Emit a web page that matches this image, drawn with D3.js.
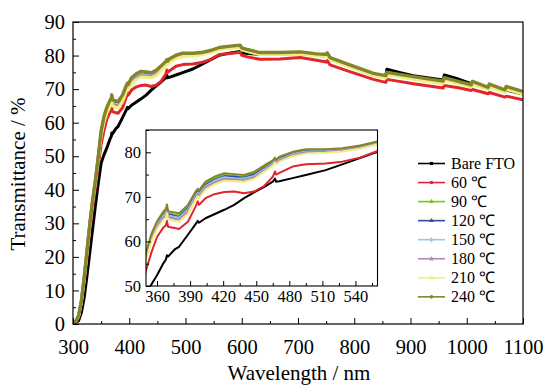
<!DOCTYPE html>
<html lang="en">
<head>
<meta charset="UTF-8">
<title>Transmittance</title>
<script src="https://cdn.jsdelivr.net/npm/d3@7/dist/d3.min.js"></script>
<style>
    body{ margin:0; background:#fff; }
    text{ font-family: "Liberation Serif", "Times New Roman", serif; fill:#000; }
    path.curve{ fill:none; stroke-linejoin:round; }
</style>
</head>
<body>
<svg id="main" width="549" height="385"></svg>
<script>
// wavelength grid (nm)
const wavelength = [300,305,310,315,320,325,330,335,340,345,350,355,360,
    366,368,369,370, 376,380,388, 395,397,398, 404,412,421,430,439,448,457,
    465,467,468,471, 483,495,513,528,544,560, 580,597,600,610,632,668,704,733,
    750,752,757,792,834, 856,858,880,905, 958,960,985,
    1008,1010,1038,1040,1068,1070,1100];

// transmittance (%) per sample
const bareFTO = [0.3,0.5,1,3.5,8,14.5,21.5,28.5,35.5,42,48,50.4,52.4,
    55.2,55.9,56.9,56.6, 58.2,58.8,61.5, 63.9,64.6,64.2, 65.2,66.1,67.1,68.2,69.7,71.0,72.2,
    73.4,74.1,73.4,73.5, 74.2,74.9,76.0,77.3,78.7,80.1, 80.8,81.2,80.8,80.6,80.4,80.5,80.7,80.1,
    79.9,80.3,79.0,76.9,74.5, 73.8,75.9,75.0,74.0, 72.7,74.2,73.0,
    71.6,71.9,70.3,70.8,69.3,69.7,68.5];
const t60 = [0.3,0.6,2,6,12.5,20,28,35,41,47.5,53.5,57.6,61,
    63.2,63.6,64.6,63.3, 63.0,62.8,64.4, 67.8,69.0,68.2, 69.7,70.6,71.1,71.2,70.8,71.2,72.4,
    74.5,75.7,75.0,75.4, 76.8,77.3,77.5,77.9,78.8,80.3, 80.6,81.0,80.1,79.6,78.9,79.0,79.4,78.6,
    78.1,78.5,77.2,75.2,72.9, 72.0,72.9,72.3,71.6, 70.3,71.1,70.4,
    69.6,69.9,68.6,69.0,67.6,67.9,66.8];
const t90 = [0.5,0.8,2.5,7.0,13.9,21.9,29.9,36.9,42.9,49.8,57.1,61.4,64.1,
    66.3,66.7,67.8,66.4, 66.0,65.8,67.7, 70.8,71.4,71.0, 73.0,74.1,74.9,74.7,74.5,75.2,76.7,
    77.9,78.5,78.0,78.7, 79.9,80.5,80.5,80.7,81.3,82.3, 82.7,83.0,82.2,81.7,80.8,80.8,81.0,80.4,
    80.2,80.6,79.3,77.1,74.6, 73.8,74.8,74.2,73.5, 72.2,73.2,72.1,
    71.1,72.1,70.3,71.3,69.6,70.6,69.1];
const t120 = [0.5,0.8,2.5,6.9,13.8,21.8,29.8,36.8,42.8,49.7,56.9,61.1,63.8,
    66.0,66.4,67.5,66.1, 65.7,65.5,67.4, 70.5,71.2,70.7, 72.7,73.8,74.6,74.5,74.3,75.0,76.4,
    77.7,78.4,77.9,78.6, 79.7,80.3,80.4,80.6,81.2,82.2, 82.6,82.9,82.1,81.6,80.7,80.7,80.9,80.3,
    80.1,80.5,79.2,77.0,74.5, 73.7,74.7,74.1,73.4, 72.1,73.1,72.0,
    71.0,72.0,70.2,71.2,69.5,70.4,69.0];
const t150 = [0.5,0.8,2.4,6.9,13.8,21.7,29.7,36.7,42.7,49.6,56.7,60.8,63.6,
    65.8,66.2,67.3,65.8, 65.5,65.3,67.1, 70.2,70.9,70.5, 72.4,73.6,74.4,74.2,74.1,74.7,76.2,
    77.5,78.2,77.7,78.4, 79.6,80.2,80.3,80.5,81.1,82.1, 82.5,82.8,82.0,81.5,80.6,80.6,80.8,80.2,
    80.0,80.4,79.1,76.9,74.4, 73.6,74.6,74.0,73.3, 72.0,73.0,71.9,
    70.9,71.9,70.1,71.1,69.4,70.3,68.9];
const t180 = [0.5,0.8,2.4,6.8,13.7,21.6,29.6,36.6,42.6,49.5,56.4,60.5,63.2,
    65.4,65.8,66.9,65.5, 65.1,64.9,66.7, 69.9,70.6,70.1, 72.1,73.2,74.0,73.9,73.8,74.4,75.9,
    77.3,78.0,77.5,78.2, 79.4,80.0,80.1,80.4,81.0,81.9, 82.3,82.6,81.8,81.3,80.4,80.4,80.6,80.0,
    79.9,80.3,78.9,76.7,74.2, 73.5,74.5,73.9,73.1, 71.8,72.9,71.8,
    70.8,71.7,70.0,70.9,69.2,70.1,68.7];
const t210 = [0.5,0.8,2.4,6.8,13.6,21.5,29.5,36.5,42.5,49.3,56.0,60.0,62.8,
    64.9,65.3,66.4,65.0, 64.6,64.4,66.2, 69.4,70.2,69.7, 71.6,72.8,73.6,73.5,73.4,74.0,75.6,
    77.0,77.7,77.2,77.9, 79.1,79.7,79.9,80.2,80.8,81.8, 82.2,82.5,81.7,81.2,80.3,80.3,80.5,79.9,
    79.7,80.1,78.8,76.6,74.1, 73.3,74.3,73.7,72.9, 71.6,72.7,71.6,
    70.6,71.5,69.8,70.7,69.0,69.9,68.5];
const t240 = [0.5,0.8,2.5,7,14,22,30,37,43,50,57.5,61.8,64.5,
    66.8,67.2,68.3,66.8, 66.5,66.3,68.2, 71.2,71.8,71.4, 73.4,74.5,75.3,75.1,74.9,75.6,77.0,
    78.2,78.8,78.3,79.0, 80.1,80.7,80.7,80.9,81.5,82.4, 82.8,83.1,82.3,81.8,80.9,80.9,81.1,80.5,
    80.4,80.8,79.4,77.2,74.7, 74.0,75.0,74.4,73.7, 72.4,73.4,72.3,
    71.3,72.3,70.5,71.5,69.8,70.8,69.3];

const seriesNames = ["Bare FTO", "60 \u2103", "90 \u2103", "120 \u2103", "150 \u2103", "180 \u2103", "210 \u2103", "240 \u2103"];
const seriesValues = [bareFTO, t60, t90, t120, t150, t180, t210, t240];

// main axis ticks
const xTicks = [300,400,500,600,700,800,900,1000,1100];
const yTicks = [0,10,20,30,40,50,60,70,80,90];
// inset axis ticks
const xTicksInset = [360,390,420,450,480,510,540];
const yTicksInset = [50,60,70,80];

// styling
const colors = ["#000000","#e3242b","#7cc41f","#2b4f9e","#8fcbe8","#b97fb8","#eef07c","#84842a"];
const symbols = [d3.symbolSquare, d3.symbolCircle, d3.symbolTriangle, d3.symbolTriangle,
                 d3.symbolDiamond, d3.symbolStar, d3.symbolTriangle, d3.symbolCircle];
const font = '"Liberation Serif", "Times New Roman", serif';

let svg = d3.select('svg#main');
svg.append('rect').attr('width',549).attr('height',385).attr('fill','#fff');

let series = seriesNames.map(function(name, i){
    return {name: name, color: colors[i],
            points: wavelength.map(function(w, j){ return {x: w, y: seriesValues[i][j]}; })};
});

// ---------- main plot ----------
let frame = {left:73, right:523, top:22, bottom:324};
let xScale = d3.scaleLinear().domain([300,1100]).range([frame.left, frame.right]);
let yScale = d3.scaleLinear().domain([0,90]).range([frame.bottom, frame.top]);

svg.append('clipPath').attr('id','clipMain').append('rect')
    .attr('x',frame.left).attr('y',frame.top)
    .attr('width',frame.right-frame.left).attr('height',frame.bottom-frame.top);

let line = d3.line().x(function(d){return xScale(d.x)}).y(function(d){return yScale(d.y)});
let fig = svg.append('g').attr('clip-path','url(#clipMain)');
fig.selectAll('path').data(series).enter().append('path')
    .attr('class','curve')
    .attr('d', function(d){return line(d.points)})
    .attr('stroke', function(d){return d.color})
    .attr('stroke-width', function(d,i){return i===7 ? 3.4 : 3});

function styleAxis(g, size){
    g.select('.domain').remove();
    g.attr('font-family', null).attr('font-size', null);
    g.selectAll('text').style('font-family', font).style('font-size', size+'px').attr('fill','#000');
    g.selectAll('line').attr('stroke','#000');
}

svg.append('g').attr('transform','translate(0,'+frame.bottom+')')
    .call(d3.axisBottom(xScale).tickValues(d3.range(350,1100,100)).tickSize(-3).tickFormat(''))
    .call(styleAxis, 20.5);
svg.append('g').attr('transform','translate(0,'+frame.bottom+')')
    .call(d3.axisBottom(xScale).tickValues(xTicks).tickSize(-6).tickPadding(15).tickFormat(d3.format('d')))
    .call(styleAxis, 20.5);
svg.append('g').attr('transform','translate('+frame.left+',0)')
    .call(d3.axisLeft(yScale).tickValues(d3.range(5,90,10)).tickSize(-3).tickFormat(''))
    .call(styleAxis, 20.5);
svg.append('g').attr('transform','translate('+frame.left+',0)')
    .call(d3.axisLeft(yScale).tickValues(yTicks).tickSize(-6).tickPadding(8).tickFormat(d3.format('d')))
    .call(styleAxis, 20.5);

svg.append('rect').attr('x',frame.left).attr('y',frame.top)
    .attr('width',frame.right-frame.left).attr('height',frame.bottom-frame.top)
    .attr('fill','none').attr('stroke','#000').attr('stroke-width',1.2);

svg.append('text').attr('x',299).attr('y',380).attr('text-anchor','middle')
    .style('font-size','21px').text('Wavelength / nm');
svg.append('text').attr('transform','translate(25,174) rotate(-90)').attr('text-anchor','middle')
    .style('font-size','21px').text('Transmittance / %');

// ---------- inset ----------
let inset = {left:146, right:377.5, top:130, bottom:286};
let xIn = d3.scaleLinear().domain([350,560]).range([inset.left, inset.right]);
let yIn = d3.scaleLinear().domain([50,85]).range([inset.bottom, inset.top]);

svg.append('rect').attr('x',inset.left).attr('y',inset.top)
    .attr('width',inset.right-inset.left).attr('height',inset.bottom-inset.top).attr('fill','#fff');
svg.append('clipPath').attr('id','clipInset').append('rect')
    .attr('x',inset.left).attr('y',inset.top)
    .attr('width',inset.right-inset.left).attr('height',inset.bottom-inset.top);

let lineIn = d3.line().x(function(d){return xIn(d.x)}).y(function(d){return yIn(d.y)});
let figIn = svg.append('g').attr('clip-path','url(#clipInset)');
figIn.selectAll('path').data(series).enter().append('path')
    .attr('class','curve')
    .attr('d', function(d){return lineIn(d.points.filter(function(p){return p.x>=340 && p.x<=600}))})
    .attr('stroke', function(d){return d.color})
    .attr('stroke-width', 2);

svg.append('g').attr('transform','translate(0,'+inset.bottom+')')
    .call(d3.axisBottom(xIn).tickValues(d3.range(375,560,30)).tickSize(-3).tickFormat(''))
    .call(styleAxis, 16.5);
svg.append('g').attr('transform','translate(0,'+inset.bottom+')')
    .call(d3.axisBottom(xIn).tickValues(xTicksInset).tickSize(-5).tickPadding(4).tickFormat(d3.format('d')))
    .call(styleAxis, 16.5);
svg.append('g').attr('transform','translate('+inset.left+',0)')
    .call(d3.axisLeft(yIn).tickValues([55,65,75,85]).tickSize(-3).tickFormat(''))
    .call(styleAxis, 16.5);
svg.append('g').attr('transform','translate('+inset.left+',0)')
    .call(d3.axisLeft(yIn).tickValues(yTicksInset).tickSize(-5).tickPadding(5).tickFormat(d3.format('d')))
    .call(styleAxis, 16.5);

svg.append('rect').attr('x',inset.left).attr('y',inset.top)
    .attr('width',inset.right-inset.left).attr('height',inset.bottom-inset.top)
    .attr('fill','none').attr('stroke','#000').attr('stroke-width',1.1);

// ---------- legend ----------
let legend = svg.append('g').attr('transform','translate(418,163.5)');
let item = legend.selectAll('g').data(series).enter().append('g')
    .attr('transform', function(d,i){return 'translate(0,'+(i*19.05)+')'});
item.append('line').attr('x1',0).attr('x2',27).attr('y1',0).attr('y2',0)
    .attr('stroke', function(d){return d.color}).attr('stroke-width',1.6);
item.append('path').attr('transform','translate(13.5,0)')
    .attr('d', function(d,i){return d3.symbol().type(symbols[i]).size(10)()})
    .attr('fill', function(d){return d.color});
item.append('text').attr('x',33).attr('y',0).attr('dy','0.33em')
    .style('font-size','16px').text(function(d){return d.name});
</script>
</body>
</html>
